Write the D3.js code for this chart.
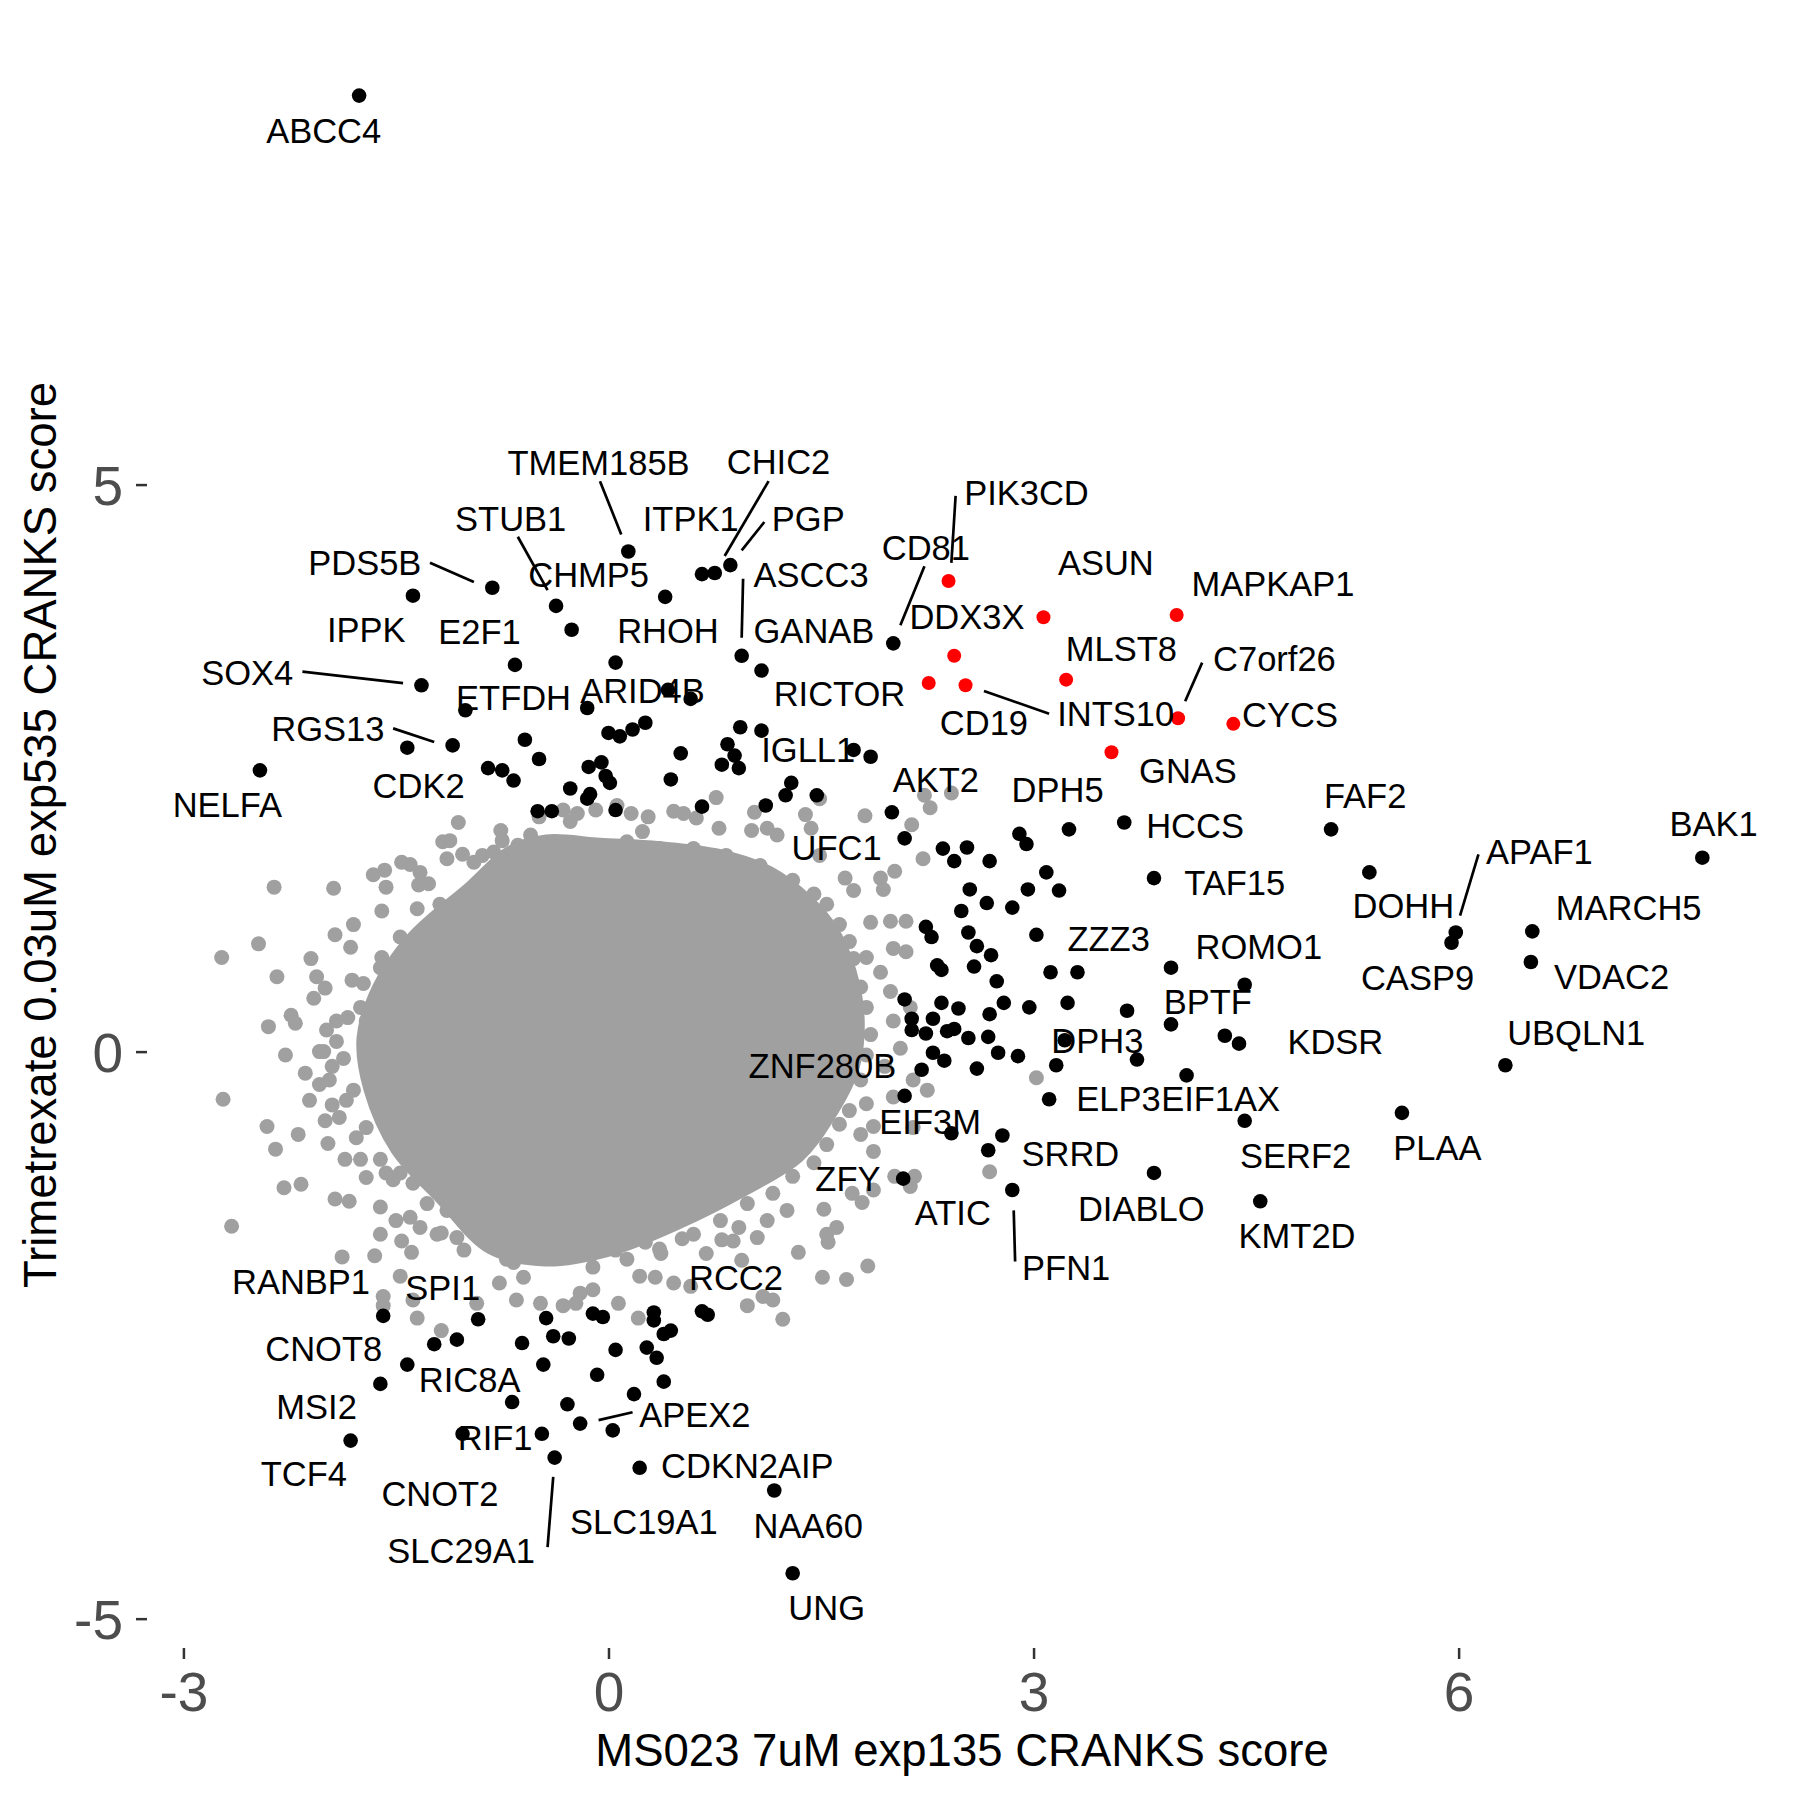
<!DOCTYPE html>
<html>
<head>
<meta charset="utf-8">
<script src="https://cdn.jsdelivr.net/npm/d3@7"></script>
<style>
body { margin: 0; background: #fff; }
text { font-family: "Liberation Sans", Arial, sans-serif; }
</style>
</head>
<body>
<div id="chart"></div>
<script>
var xTicks = [-3, 0, 3, 6];
var yTicks = [-5, 0, 5];
var xTitle = "MS023 7uM exp135 CRANKS score";
var yTitle = "Trimetrexate 0.03uM exp535 CRANKS score";

// outline of the solid mass of non-hit genes
var grayCore = [
  [-0.44,1.88],[-0.06,1.85],[0.36,1.82],[0.79,1.75],[1.14,1.60],[1.42,1.34],[1.60,1.07],
  [1.72,0.72],[1.78,0.28],[1.74,-0.16],[1.56,-0.60],[1.35,-0.94],[0.96,-1.24],[0.50,-1.53],
  [0.01,-1.77],[-0.45,-1.86],[-0.84,-1.75],[-1.19,-1.31],[-1.51,-0.87],[-1.70,-0.34],
  [-1.75,0.12],[-1.64,0.57],[-1.40,1.01],[-0.98,1.47],[-0.70,1.78]
];

// non-hit genes around the solid mass
var grayPoints = [
  [-1.06,2.02],[-1.46,1.67],[-1.40,1.65],[-1.66,1.56],[-1.58,1.60],[-1.57,1.45],[-2.36,1.45],
  [-1.94,1.44],[-1.34,1.47],[-1.27,1.48],[-1.17,1.85],[-1.12,1.86],[-1.14,1.70],[-1.03,1.74],
  [-0.95,1.67],[-1.60,1.24],[-1.35,1.26],[-1.19,1.30],[-2.47,0.95],[-2.73,0.83],[-1.93,1.03],
  [-1.80,1.12],[-1.82,0.92],[-2.34,0.66],[-2.10,0.82],[-2.06,0.66],[-2.00,0.56],[-2.08,0.47],
  [-1.81,0.63],[-1.73,0.60],[-1.60,0.83],[-2.40,0.22],[-2.24,0.32],[-2.21,0.25],[-2.28,-0.03],
  [-1.99,0.19],[-1.92,0.27],[-1.84,0.30],[-2.04,0.00],[-1.95,-0.13],[-1.87,-0.06],[-2.72,-0.42],
  [-2.14,-0.19],[-2.04,-0.29],[-2.11,-0.43],[-1.95,-0.47],[-1.85,-0.43],[-2.00,-0.61],[-2.41,-0.66],
  [-2.19,-0.73],[-2.35,-0.86],[-1.98,-0.81],[-1.86,-0.95],[-1.78,-0.76],[-1.75,-0.95],[-1.71,-1.11],
  [-1.57,-1.07],[-1.47,-1.07],[-2.29,-1.20],[-2.17,-1.17],[-1.93,-1.30],[-1.83,-1.32],[-1.61,-1.37],
  [-1.50,-1.49],[-1.40,-1.46],[-1.33,-1.55],[-2.66,-1.54],[-1.61,-1.61],[-1.46,-1.67],[-1.39,-1.77],
  [-1.65,-1.80],[-1.88,-1.81],[-1.59,-2.16],[-1.47,-1.98],[-1.38,-2.19],[-1.21,-1.61],[-1.07,-1.64],
  [-0.93,-2.22],[-0.77,-2.04],[-0.67,-1.86],[-0.48,-2.22],
  [0.06,2.17],[0.76,2.24],[1.03,2.11],[1.01,1.95],[1.12,1.97],[1.19,1.91],[1.39,2.09],[1.43,1.97],
  [1.81,2.08],[2.27,2.15],[2.14,2.00],[2.22,1.70],[1.49,1.73],[1.67,1.53],[1.73,1.42],[1.92,1.53],
  [2.02,1.59],[1.94,1.43],[1.85,1.14],[1.99,1.15],[2.10,1.15],[2.01,0.91],[2.10,0.88],[1.82,0.83],
  [1.92,0.70],[1.99,0.53],[2.13,0.39],[2.01,0.27],[2.06,0.03],[1.95,-0.13],[2.15,-0.25],[2.25,-0.34],
  [2.01,-0.40],[1.82,-0.46],[1.87,-0.66],[1.78,-0.73],[2.15,-0.67],[1.87,-0.88],[2.16,-1.10],
  [2.13,-1.19],[1.87,-1.22],[1.72,-1.25],[1.79,-1.33],[1.52,-1.39],[1.61,-1.55],[1.54,-1.61],
  [1.34,-1.77],[1.83,-1.89],[1.68,-2.01],[1.51,-1.99],[1.26,-1.40],[1.12,-1.49],[0.92,-1.55],
  [1.05,-1.64],[0.88,-1.67],[1.09,-2.16],[0.98,-2.24],[-0.11,-1.90],[0.07,-2.22],[-0.20,-2.13],
  [0.22,-1.98],[0.46,-2.04],[0.58,-2.07],[1.23,-2.36],[1.55,-1.68],[3.02,-0.23],[2.69,-1.06],
  [2.02,-1.10],[-0.76,1.95],[-0.49,2.07],[-0.32,2.13],[-0.22,2.10],[0.16,2.10],[0.28,2.07],
  [0.53,2.10],[1.49,2.23],[2.42,2.28],[2.23,2.26],[-0.27,2.03],[-0.09,2.13],[0.46,2.12],
  [0.62,2.06],[0.78,1.97],[0.24,1.94],[-0.75,1.86],[-0.89,1.73],[-1.33,1.58],[-0.64,1.82],
  [-1.59,-2.24],[-1.35,-2.35],[-1.18,-2.46],[-0.65,-2.19],[-0.11,-2.10],[0.21,-2.35],[-0.60,-1.99],
  [-0.32,-2.24],[-0.23,-2.22],[0.33,-1.99],[1.16,-2.19],[0.94,-1.84],[0.80,-1.66],[0.69,-1.78],
  [0.52,-1.65],[0.37,-1.78],[0.26,-1.68],[0.05,-1.75],[-0.22,-1.77],[-0.51,-1.78],[-0.68,-1.69],
  [-0.88,-1.66],[-1.02,-1.75],[-1.18,-1.60],
  [-0.81,1.76],[-0.70,1.67],[-0.55,1.91],[-1.27,1.09],[-1.38,0.95],[-1.47,1.01],[-1.61,0.74],
  [-1.52,0.57],[-1.75,0.39],[-1.71,0.27],[-1.92,0.09],[-2.01,0.00],[-1.97,-0.25],[-1.80,-0.34],
  [-1.90,-0.58],[-1.71,-0.67],[-1.61,-0.95],[-1.52,-1.13],[-1.38,-1.16],[-1.28,-1.34],[-1.14,-1.40],
  [-0.98,-1.49],[-0.84,-1.61],[-0.72,-1.83],
  [1.30,1.51],[1.45,1.39],[1.54,1.30],[1.63,1.12],[1.70,0.97],[1.73,0.82],[1.78,0.57],[1.82,0.39],
  [1.85,0.15],[1.82,-0.03],[1.78,-0.25],[1.70,-0.52],[1.63,-0.64],[1.54,-0.82],[1.45,-0.98],
  [1.30,-1.10],[1.16,-1.25],[0.98,-1.34],[0.79,-1.49],[0.60,-1.61],[0.36,-1.74],[0.13,-1.83],
  [1.07,1.64],[0.83,1.73],[0.60,1.79],[0.36,1.79],[0.13,1.85],[-0.11,1.82]
];

// hit genes, black
var blackPoints = [
  [-1.76,8.43],[0.14,4.41],[0.66,4.21],[0.75,4.22],[0.86,4.29],[-0.82,4.09],[-1.38,4.02],
  [-0.37,3.93],[0.40,4.01],[-0.26,3.72],[-0.66,3.41],[0.05,3.43],[0.94,3.49],[1.08,3.36],
  [2.01,3.60],[-1.32,3.23],[0.42,3.19],[0.58,3.11],[-1.01,3.01],[-0.15,3.03],[0.26,2.90],
  [0.17,2.84],[0.00,2.81],[0.08,2.78],[-1.10,2.70],[-1.42,2.68],[-0.59,2.75],[-0.49,2.58],
  [0.51,2.63],[-0.14,2.51],[-0.05,2.55],[-0.02,2.43],[0.01,2.37],[-0.27,2.32],[-0.13,2.27],
  [-0.15,2.23],[-0.85,2.50],[-0.75,2.48],[-0.67,2.39],[0.44,2.40],[-0.50,2.12],[-0.40,2.12],
  [0.05,2.13],[0.66,2.16],[-2.46,2.48],[0.93,2.86],[1.08,2.83],[0.84,2.71],[0.89,2.61],
  [0.80,2.53],[0.92,2.50],[1.73,2.66],[1.85,2.60],[1.29,2.37],[1.25,2.26],[1.47,2.26],
  [1.11,2.17],[2.00,2.11],
  [2.09,1.88],[2.36,1.79],[2.44,1.68],[2.53,1.80],[2.69,1.68],[2.90,1.92],[2.95,1.83],
  [3.25,1.96],[3.64,2.02],[3.85,1.53],[3.09,1.58],[2.96,1.43],[3.18,1.42],[2.55,1.43],
  [2.67,1.31],[2.85,1.27],[2.49,1.24],[2.24,1.10],[2.28,1.01],[2.54,1.05],[2.60,0.93],
  [2.70,0.85],[3.02,1.03],[2.32,0.76],[2.35,0.72],[2.58,0.75],[2.74,0.62],[3.12,0.70],
  [3.31,0.70],[3.97,0.74],[2.09,0.46],[2.35,0.43],[2.47,0.38],[2.69,0.33],[2.79,0.43],
  [2.97,0.39],[3.24,0.43],[3.66,0.36],[3.97,0.24],[4.49,0.59],[2.14,0.29],[2.29,0.29],
  [2.14,0.19],[2.24,0.16],[2.39,0.18],[2.44,0.20],[2.54,0.12],[2.68,0.13],[2.29,-0.01],
  [2.37,-0.08],[2.75,-0.01],[2.89,-0.04],[2.60,-0.15],[2.21,-0.16],[3.22,0.10],[3.16,-0.12],
  [3.73,-0.07],[4.35,0.14],[4.45,0.07],[2.09,-0.39],[3.11,-0.42],[4.08,-0.21],[2.42,-0.72],
  [2.78,-0.74],[2.68,-0.87],[2.08,-1.12],[2.85,-1.22],[3.85,-1.07],[4.49,-0.61],[4.60,-1.32],
  [5.60,-0.54],[6.33,-0.12],[6.51,0.79],[6.52,1.06],[5.98,1.05],[5.95,0.96],[5.37,1.58],
  [5.10,1.96],[7.72,1.71],
  [-1.59,-2.33],[-0.92,-2.36],[-0.44,-2.35],[-0.11,-2.31],[-0.04,-2.34],[0.32,-2.30],[0.32,-2.37],
  [0.44,-2.46],[0.39,-2.49],[0.66,-2.29],[0.70,-2.32],[-1.23,-2.58],[-1.07,-2.54],[-0.61,-2.57],
  [-0.39,-2.51],[-0.28,-2.53],[0.05,-2.63],[0.27,-2.61],[0.34,-2.70],[-1.42,-2.76],[-1.61,-2.93],
  [-0.46,-2.76],[-0.08,-2.85],[0.39,-2.91],[-0.68,-3.09],[-0.29,-3.11],[0.18,-3.02],[-0.20,-3.28],
  [0.03,-3.34],[-1.03,-3.37],[-0.47,-3.37],[-1.82,-3.43],[-0.38,-3.58],[0.22,-3.67],[1.17,-3.87],
  [1.30,-4.60]
];

// hit genes, red
var redPoints = [
  [2.40,4.15],[3.07,3.83],[4.01,3.85],[2.44,3.49],[3.23,3.28],[2.26,3.25],[2.52,3.23],
  [4.02,2.94],[4.41,2.89],[3.55,2.64]
];

// gene name and where its label sits
var geneLabels = [
  ["ABCC4",-2.01,8.12],["TMEM185B",-0.07,5.19],["CHIC2",1.20,5.20],["PIK3CD",2.95,4.93],
  ["STUB1",-0.69,4.70],["ITPK1",0.58,4.70],["PGP",1.41,4.70],["CD81",2.24,4.44],
  ["ASUN",3.51,4.31],["PDS5B",-1.72,4.31],["CHMP5",-0.14,4.21],["ASCC3",1.43,4.21],
  ["MAPKAP1",4.69,4.13],["DDX3X",2.53,3.84],["IPPK",-1.71,3.72],["E2F1",-0.91,3.70],
  ["RHOH",0.42,3.71],["GANAB",1.45,3.71],["MLST8",3.62,3.55],["C7orf26",4.70,3.47],
  ["SOX4",-2.55,3.34],["ARID4B",0.24,3.18],["RICTOR",1.63,3.16],["ETFDH",-0.67,3.12],
  ["INTS10",3.58,2.98],["CYCS",4.81,2.97],["CD19",2.65,2.90],["RGS13",-1.98,2.85],
  ["IGLL1",1.41,2.66],["GNAS",4.09,2.48],["AKT2",2.31,2.40],["CDK2",-1.34,2.35],
  ["DPH5",3.17,2.31],["FAF2",5.34,2.26],["NELFA",-2.69,2.18],["BAK1",7.80,2.01],
  ["HCCS",4.14,1.99],["UFC1",1.61,1.80],["APAF1",6.57,1.76],["TAF15",4.42,1.49],
  ["DOHH",5.61,1.29],["MARCH5",7.20,1.27],["ZZZ3",3.53,1.00],["ROMO1",4.59,0.93],
  ["VDAC2",7.08,0.66],["CASP9",5.71,0.65],["BPTF",4.23,0.44],["UBQLN1",6.83,0.17],
  ["DPH3",3.45,0.10],["KDSR",5.13,0.09],["ZNF280B",1.51,-0.12],["ELP3",3.60,-0.41],
  ["EIF1AX",4.32,-0.41],["EIF3M",2.27,-0.62],["PLAA",5.85,-0.85],["SRRD",3.26,-0.90],
  ["SERF2",4.85,-0.92],["ZFY",1.69,-1.12],["DIABLO",3.76,-1.38],["ATIC",2.43,-1.42],
  ["KMT2D",4.86,-1.62],["PFN1",3.23,-1.90],["RCC2",0.90,-1.99],["RANBP1",-2.17,-2.03],
  ["SPI1",-1.17,-2.08],["CNOT8",-2.01,-2.62],["RIC8A",-0.98,-2.89],["MSI2",-2.06,-3.13],
  ["APEX2",0.61,-3.20],["RIF1",-0.80,-3.40],["CDKN2AIP",0.98,-3.65],["TCF4",-2.15,-3.72],
  ["CNOT2",-1.19,-3.90],["SLC19A1",0.25,-4.14],["NAA60",1.41,-4.18],["SLC29A1",-1.04,-4.40],
  ["UNG",1.54,-4.90]
];

// leader lines from label to point
var labelSegments = [
  [-0.06,5.03,0.09,4.56],[-0.64,4.54,-0.43,4.07],[-1.26,4.31,-0.95,4.14],[-2.16,3.35,-1.45,3.25],
  [-1.52,2.85,-1.23,2.73],[0.95,4.17,0.94,3.65],[2.23,4.28,2.06,3.76],[1.13,5.03,0.82,4.37],
  [1.10,4.67,0.94,4.42],[2.45,4.90,2.42,4.31],[4.19,3.43,4.07,3.09],[2.65,3.18,3.11,2.98],
  [6.14,1.74,6.01,1.20],[2.86,-1.40,2.87,-1.85],[-0.07,-3.25,0.17,-3.18],[-0.39,-3.75,-0.43,-4.37]
];

var width = 1800, height = 1800;
var panel = {left: 148, right: 1776, top: 23, bottom: 1647};

var svg = d3.select("#chart").append("svg")
  .attr("width", width)
  .attr("height", height)
  .style("background", "#fff");

var x = d3.scaleLinear().domain([-3.25, 8.24]).range([panel.left, panel.right]);
var y = d3.scaleLinear().domain([-5.25, 9.07]).range([panel.bottom, panel.top]);

var grey = "#a0a0a0";

// dense cloud
var coreLine = d3.line()
  .x(function(d) { return x(d[0]); })
  .y(function(d) { return y(d[1]); })
  .curve(d3.curveCatmullRomClosed);

svg.append("path")
  .datum(grayCore)
  .attr("d", coreLine)
  .attr("fill", grey)
  .attr("stroke", grey)
  .attr("stroke-width", 8)
  .attr("stroke-linejoin", "round");

svg.append("g").selectAll("circle")
  .data(grayPoints)
  .enter().append("circle")
  .attr("cx", function(d) { return x(d[0]); })
  .attr("cy", function(d) { return y(d[1]); })
  .attr("r", 7.5)
  .attr("fill", grey);

svg.append("g").selectAll("circle")
  .data(blackPoints)
  .enter().append("circle")
  .attr("cx", function(d) { return x(d[0]); })
  .attr("cy", function(d) { return y(d[1]); })
  .attr("r", 7.3)
  .attr("fill", "#000");

svg.append("g").selectAll("circle")
  .data(redPoints)
  .enter().append("circle")
  .attr("cx", function(d) { return x(d[0]); })
  .attr("cy", function(d) { return y(d[1]); })
  .attr("r", 7)
  .attr("fill", "#ff0000");

svg.append("g").selectAll("line")
  .data(labelSegments)
  .enter().append("line")
  .attr("x1", function(d) { return x(d[0]); })
  .attr("y1", function(d) { return y(d[1]); })
  .attr("x2", function(d) { return x(d[2]); })
  .attr("y2", function(d) { return y(d[3]); })
  .attr("stroke", "#000")
  .attr("stroke-width", 2.7);

svg.append("g").selectAll("text")
  .data(geneLabels)
  .enter().append("text")
  .attr("x", function(d) { return x(d[1]); })
  .attr("y", function(d) { return y(d[2]); })
  .attr("dy", "0.36em")
  .attr("text-anchor", "middle")
  .style("font-size", "34.5px")
  .style("fill", "#000")
  .text(function(d) { return d[0]; });

// AXIS
var xAxis = svg.append("g")
  .attr("transform", "translate(0," + (panel.bottom + 1) + ")")
  .call(d3.axisBottom(x).tickValues(xTicks).tickSize(11).tickFormat(function(d) { return String(d); }));
xAxis.select(".domain").remove();
xAxis.selectAll("line").attr("stroke", "#333").attr("stroke-width", 2.5);
xAxis.selectAll("text")
  .attr("y", 23.5)
  .attr("dy", "0.71em")
  .style("font-size", "55px")
  .style("fill", "#4d4d4d");

var yAxis = svg.append("g")
  .attr("transform", "translate(" + (panel.left - 1) + ",0)")
  .call(d3.axisLeft(y).tickValues(yTicks).tickSize(11).tickFormat(function(d) { return String(d); }));
yAxis.select(".domain").remove();
yAxis.selectAll("line").attr("stroke", "#333").attr("stroke-width", 2.5);
yAxis.selectAll("text")
  .attr("x", -24)
  .attr("dy", "0.36em")
  .style("font-size", "55px")
  .style("fill", "#4d4d4d");

// AXIS LABELS
svg.append("text")
  .attr("x", (panel.left + panel.right) / 2)
  .attr("y", 1766)
  .attr("text-anchor", "middle")
  .style("font-size", "45.5px")
  .style("fill", "#000")
  .text(xTitle);

svg.append("text")
  .attr("transform", "translate(56," + ((panel.top + panel.bottom) / 2) + ") rotate(-90)")
  .attr("text-anchor", "middle")
  .style("font-size", "45.5px")
  .style("fill", "#000")
  .text(yTitle);
</script>
</body>
</html>
